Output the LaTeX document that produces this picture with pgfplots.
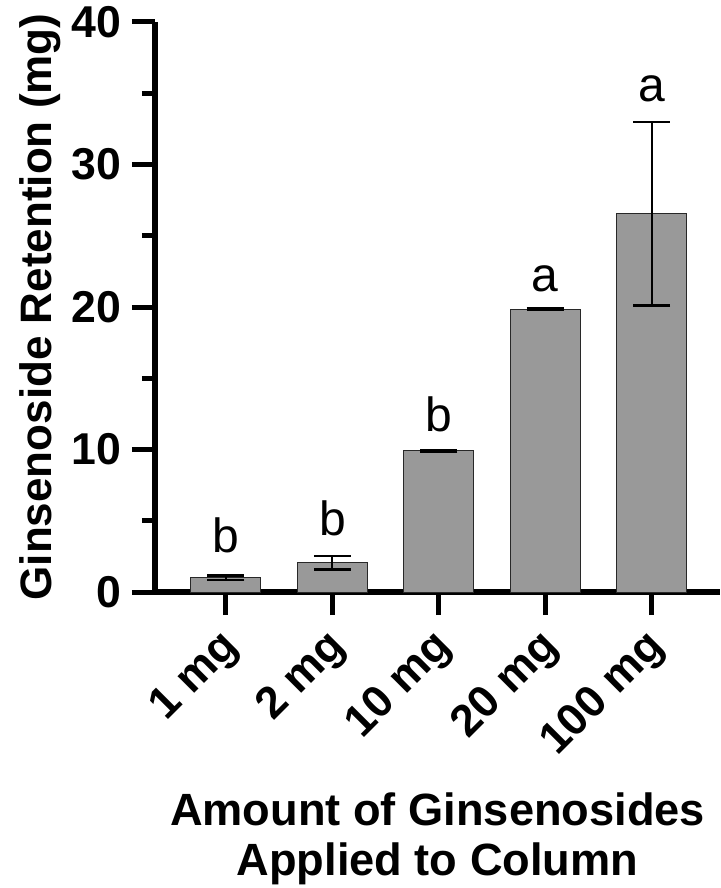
\documentclass[border=0pt]{standalone}
\usepackage{fontspec}
\setmainfont{Liberation Sans}
\usepackage{pgfplots}
\pgfplotsset{compat=1.18}
\definecolor{barfill}{RGB}{153,153,153}
\definecolor{baredge}{RGB}{40,40,40}
\pgfplotstableread{
x y e
0 1.00 0.17
1 2.05 0.47
2 9.90 0.05
3 19.85 0.05
4 26.55 6.45
}\datatable
\begin{document}
\begin{tikzpicture}
\useasboundingbox (-77.5pt,-148pt) rectangle (282.5pt,296pt);
\begin{axis}[
  anchor=south west, at={(0,0)},
  scale only axis, width=282.5pt, height=285pt,
  xmin=-0.667, xmax=4.643, ymin=0, ymax=40,
  axis lines=left, axis line style={line width=3pt,-},
  ytick={0,10,20,30,40}, minor ytick={5,15,25,35},
  xtick={0,1,2,3,4}, xticklabels={1 mg,2 mg,10 mg,20 mg,100 mg},
  tick align=outside, major tick length=11.5pt, minor tick length=6.5pt,
  tick style={line width=2.5pt, black},
  /pgf/number format/assume math mode=true,
  yticklabel style={font=\fontsize{22.3}{26}\selectfont\bfseries, anchor=east, inner sep=0pt, xshift=-5pt},
  xticklabel style={font=\fontsize{22.3}{26}\selectfont\bfseries, xshift=3.5pt, yshift=-12.5pt, rotate=45, anchor=east, inner sep=0pt},
  ylabel={Ginsenoside Retention (mg)},
  ylabel style={font=\fontsize{22}{26}\selectfont\bfseries, at={(axis description cs:-0.2035,0.5)}, anchor=center, inner sep=0pt},
  xlabel={Amount of Ginsenosides\\Applied to Column},
  xlabel style={font=\fontsize{22.6}{25}\selectfont\bfseries, at={(axis description cs:0.5,-0.3509)}, anchor=north, align=center, inner sep=0pt},
  ybar, bar width=0.658,
  clip=false,
]
\addplot[fill=barfill, draw=baredge, line width=0.5pt,
  error bars/.cd, y dir=both, y explicit,
  error bar style={line width=1pt, black, solid},
  error mark options={rotate=90, mark size=9.25pt, line width=1.2pt, black}]
  table[x=x, y=y, y error=e] {\datatable};
\node[anchor=base, font=\fontsize{24}{28}\selectfont, inner sep=0pt] at (axis cs:0,2.74) {b};
\node[anchor=base, font=\fontsize{24}{28}\selectfont, inner sep=0pt] at (axis cs:1,3.93) {b};
\node[anchor=base, font=\fontsize{24}{28}\selectfont, inner sep=0pt] at (axis cs:2,11.23) {b};
\node[anchor=base, font=\fontsize{24}{28}\selectfont, inner sep=0pt] at (axis cs:3,21.1) {a};
\node[anchor=base, font=\fontsize{24}{28}\selectfont, inner sep=0pt] at (axis cs:4,34.4) {a};
\end{axis}
\end{tikzpicture}
\end{document}
